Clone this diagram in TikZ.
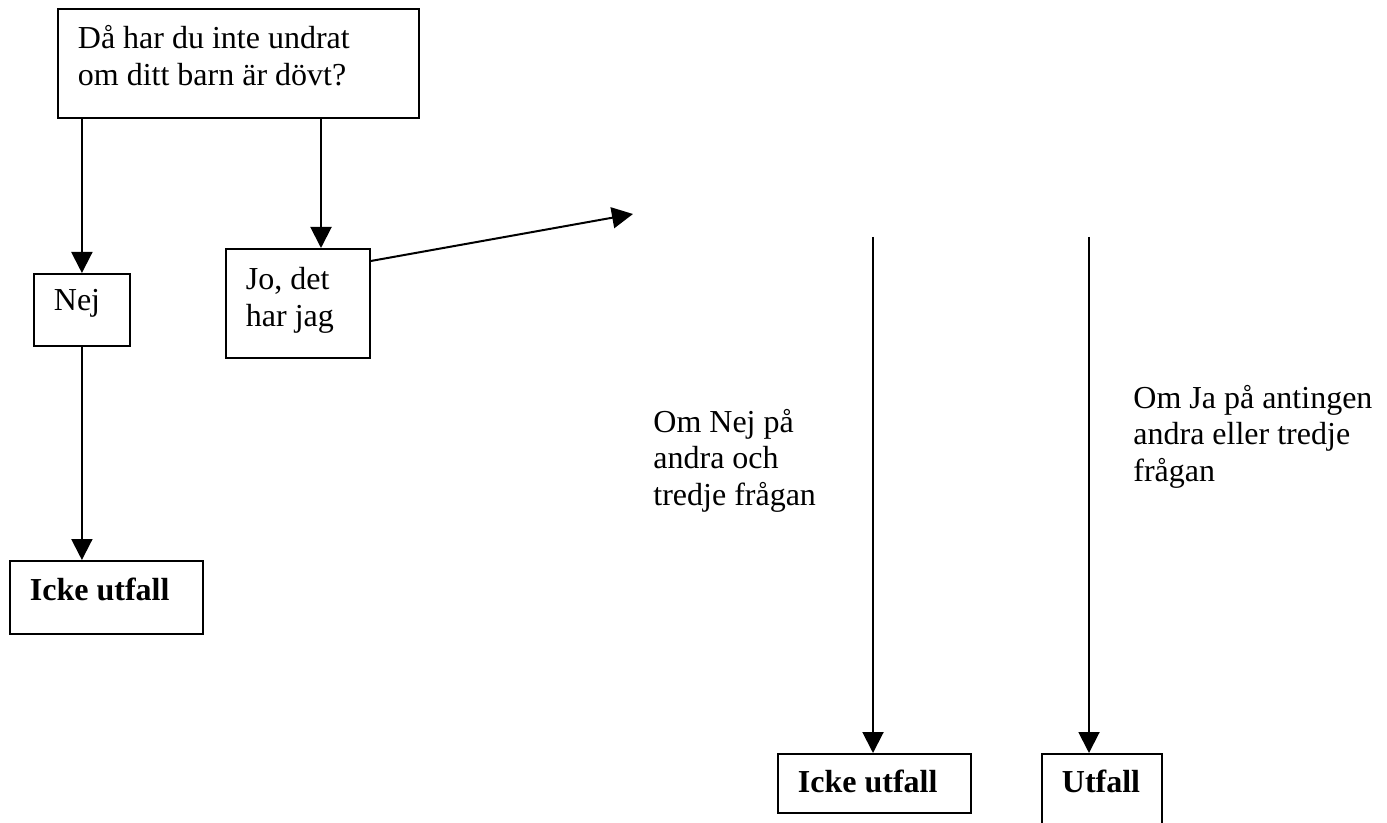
\documentclass[tikz,border=0pt]{standalone}
\usepackage{fontspec}
\setmainfont{Liberation Serif}
\usetikzlibrary{arrows.meta}

\begin{document}
\begin{tikzpicture}
        [
            x=0.5pt, y=-0.5pt,
            every node/.style={font=\fontsize{16}{18.3}\selectfont},
            box/.style={draw, line width=0.9pt, anchor=north west, align=flush left, inner xsep=10pt, inner ysep=4pt},
            boldbox/.style={box, font=\fontsize{16}{18.3}\selectfont\bfseries},
            plain/.style={anchor=north west, align=flush left, inner sep=0pt, text height=12pt, text width=130pt},
            arr/.style={line width=1pt, -{Triangle[length=10.5pt, width=10.5pt]}}
        ]

        \useasboundingbox (0,0) rectangle (1387,823);

        % boxes
        \node[box, text width=160.5pt, text height=16pt, text depth=30.5pt] (question) at (57,8)
            {Då har du inte undrat\\om ditt barn är dövt?};
        \node[box, text width=28pt, text height=14.5pt, text depth=13.5pt] (no) at (33,273) {Nej};
        \node[box, text width=52pt, text height=16.5pt, text depth=30pt] (yes) at (225,248) {Jo, det\\har jag};
        \node[boldbox, text width=76.5pt, text height=16pt, text depth=12.5pt] (noout) at (9,560) {Icke utfall};
        \node[boldbox, text width=76.5pt, text height=15.5pt, text depth=6pt] (noout2) at (777,753) {Icke utfall};
        \node[boldbox, text width=40pt, text height=15.5pt, text depth=15pt] (out) at (1041,753) {Utfall};

        % texts
        \node[plain] (ifno) at (653,408) {Om Nej på\\andra och\\tredje frågan};
        \node[plain] (ifyes) at (1133,384) {Om Ja på antingen\\andra eller tredje\\frågan};

        % connectors
        \coordinate (yesin) at ([xshift=48pt]yes.north west);
        \coordinate (tip) at (633,214);
        \coordinate (nostart) at (873,237);
        \coordinate (yesstart) at (1089,237);

        \draw[arr] (question.south -| no.north) -- (no.north);
        \draw[arr] (question.south -| yesin) -- (yesin);
        \draw[arr] (no.south) -- (no.south |- noout.north);
        \draw[arr] ([yshift=-6.5pt]yes.north east) -- (tip);
        \draw[arr] (nostart) -- (nostart |- noout2.north);
        \draw[arr] (yesstart) -- (yesstart |- out.north);
\end{tikzpicture}
\end{document}
